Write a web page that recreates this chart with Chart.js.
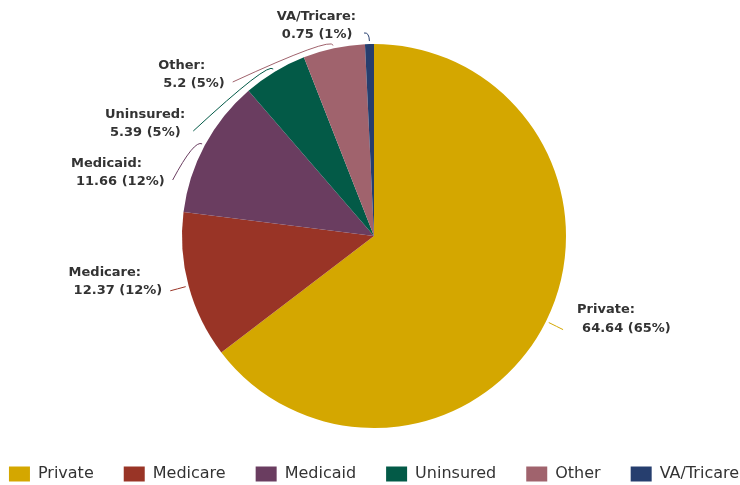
<!DOCTYPE html>
<html>
<head>
<meta charset="utf-8">
<script src="https://cdn.jsdelivr.net/npm/chart.js@4.4.0/dist/chart.umd.min.js"></script>
<style>
  body { margin: 0; background: #fff; overflow: hidden; }
  #wrap { width: 740px; height: 485px; overflow: hidden; }
  #pieChart { margin-left: -36px; display: block; }
</style>
</head>
<body>
<div id="wrap"><canvas id="pieChart" width="820" height="485"></canvas></div>
<script>
// coverage categories and their values
var categories = ['Private', 'Medicare', 'Medicaid', 'Uninsured', 'Other', 'VA/Tricare'];
var values = [64.64, 12.37, 11.66, 5.39, 5.2, 0.75];
var colors = ['#D4A700', '#993426', '#6A3D60', '#035A47', '#A0636D', '#263E6E'];

var FONT = '"DejaVu Sans", Verdana, sans-serif';

// draws the outside labels with a callout line for each slice
var calloutLabels = {
    id: 'calloutLabels',
    afterDatasetsDraw: function(chart) {
        var ctx = chart.ctx;
        var meta = chart.getDatasetMeta(0);
        var total = 0;
        for (var k = 0; k < values.length; k++) total += values[k];

        var items = [];
        for (var i = 0; i < meta.data.length; i++) {
            var p = meta.data[i].getProps(['x', 'y', 'startAngle', 'endAngle', 'outerRadius'], true);
            var mid = (p.startAngle + p.endAngle) / 2;
            var R = p.outerRadius + 19;
            items.push({
                i: i, p: p, mid: mid, R: R,
                ax: p.x + Math.cos(mid) * R,
                ay: p.y + Math.sin(mid) * R,
                left: Math.cos(mid) < 0,
                shift: 0
            });
        }

        // push left labels down so they do not overlap
        var left = items.filter(function(it) { return it.left; });
        left.sort(function(a, b) { return a.ay - b.ay; });
        var prev = null;
        for (var j = 0; j < left.length; j++) {
            var it = left[j];
            if (prev === null) {
                it.ay = Math.max(it.ay, 33);
                it.ax -= 5;
                it.shift = 2;
            } else if (it.ay < prev.ay + 49) {
                it.ay = prev.ay + 49;
                var dy = it.ay - it.p.y;
                it.ax = it.p.x - Math.sqrt(Math.max(0, (it.R - 2) * (it.R - 2) - dy * dy));
                it.shift = 2;
            }
            prev = it;
        }

        ctx.save();
        items.forEach(function(it) {
            var p = it.p;
            var c = Math.cos(it.mid), s = Math.sin(it.mid);
            ctx.strokeStyle = colors[it.i];
            ctx.lineWidth = 1;
            ctx.beginPath();
            ctx.moveTo(p.x + c * (p.outerRadius + 3), p.y + s * (p.outerRadius + 3));
            ctx.quadraticCurveTo(p.x + c * (p.outerRadius + 12), p.y + s * (p.outerRadius + 12), it.ax, it.ay);
            ctx.stroke();

            var pct = Math.round(values[it.i] / total * 100);
            var line1 = categories[it.i] + ':';
            var line2 = values[it.i] + ' (' + pct + '%)';
            ctx.font = 'bold 13px ' + FONT;
            ctx.fillStyle = '#333';
            ctx.textAlign = 'left';
            ctx.textBaseline = 'middle';
            var w1 = ctx.measureText(line1).width;
            var w2 = ctx.measureText(line2).width + 5;
            var x0, ty;
            if (it.left) {
                x0 = it.ax - 8 - Math.max(w1, w2);
                ty = it.ay + it.shift;
            } else {
                x0 = it.ax + 14;
                ty = it.ay - 1;
            }
            ctx.fillText(line1, x0, ty - 18.5);
            ctx.fillText(line2, x0 + 5, ty);
        });
        ctx.restore();
    }
};

var pieChart = new Chart(document.getElementById('pieChart').getContext('2d'), {
    type: 'pie',
    data: {
        labels: categories,
        datasets: [{
            data: values,
            backgroundColor: colors,
            borderWidth: 0,
            radius: 192
        }]
    },
    options: {
        responsive: false,
        animation: false,
        layout: {
            padding: { top: 36, bottom: -7 }
        },
        plugins: {
            legend: {
                position: 'bottom',
                labels: {
                    boxWidth: 21,
                    boxHeight: 15,
                    padding: 30,
                    color: '#333',
                    font: { family: FONT, size: 16 }
                }
            },
            tooltip: { enabled: false }
        }
    },
    plugins: [calloutLabels]
});
</script>
</body>
</html>
